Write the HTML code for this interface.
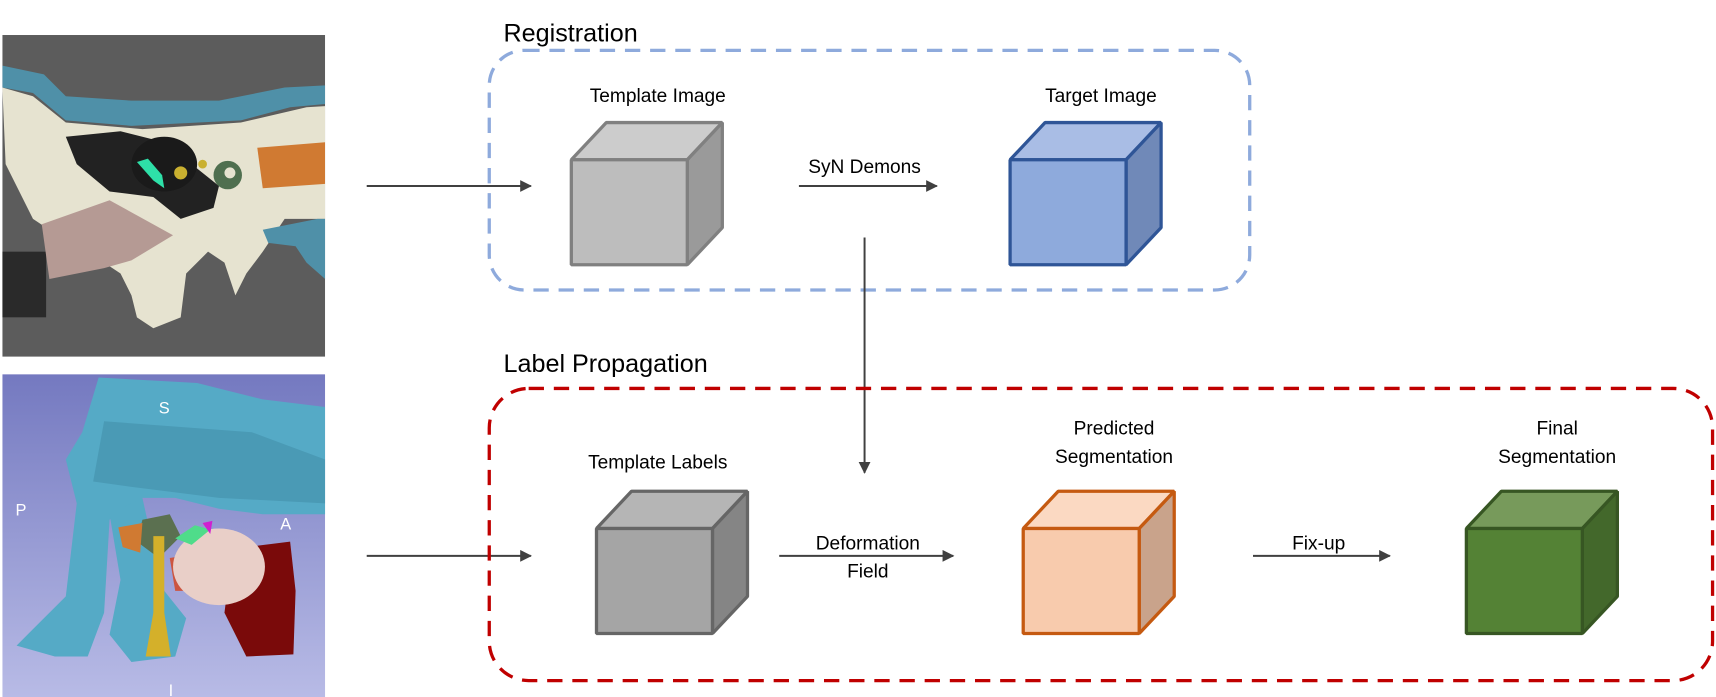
<!DOCTYPE html>
<html><head><meta charset="utf-8"><style>
html,body{margin:0;padding:0;background:#fff;}
svg{display:block;}
text{font-family:"Liberation Sans",Arial,sans-serif;fill:#000;}
</style></head><body>
<svg width="1716" height="697" viewBox="0 0 1568 637" xmlns="http://www.w3.org/2000/svg">
<defs>
<marker id="ah" viewBox="0 0 10 10" refX="9" refY="5" markerWidth="6" markerHeight="6" orient="auto"><path d="M0,0 L10,5 L0,10 z" fill="#404040"/></marker>
<linearGradient id="bg3d" x1="0" y1="0" x2="0" y2="1"><stop offset="0" stop-color="#7479c0"/><stop offset="1" stop-color="#b8bbe6"/></linearGradient>
<clipPath id="c1"><rect x="2" y="32" width="295" height="294"/></clipPath>
<clipPath id="c2"><rect x="2" y="342" width="295" height="295"/></clipPath>
</defs>

<g clip-path="url(#c1)">
<rect x="2" y="32" width="295" height="294" fill="#5c5c5c"/>
<rect x="2" y="230" width="40" height="60" fill="#2a2a2a"/>
<path d="M2,60 L40,68 L60,88 L120,92 L200,92 L260,80 L297,78 L297,95 L265,98 L220,110 L120,115 L60,110 L30,85 L2,80 z" fill="#4f90a8"/>
<path d="M2,80 L30,88 L60,112 L130,118 L220,112 L280,98 L297,97 L297,200 L260,200 L240,230 L225,250 L215,270 L205,240 L190,230 L170,250 L165,290 L140,300 L125,290 L120,270 L110,250 L80,230 L60,220 L30,200 L5,150 z" fill="#e6e3d0"/>
<path d="M60,125 L110,120 L150,130 L175,150 L200,170 L195,190 L165,200 L140,180 L100,175 L70,150 z" fill="#222"/>
<ellipse cx="150" cy="150" rx="30" ry="25" fill="#1a1a1a"/>
<path d="M125,148 L135,145 L148,160 L150,172 L140,165 z" fill="#2ee0a8"/>
<circle cx="165" cy="158" r="6" fill="#c9b030"/>
<circle cx="185" cy="150" r="4" fill="#c9b030"/>
<circle cx="208" cy="160" r="13" fill="#4f6f4f"/>
<circle cx="210" cy="158" r="5" fill="#e6e3d0"/>
<path d="M235,135 L297,130 L297,168 L240,172 z" fill="#d07a32"/>
<path d="M240,210 L290,200 L297,200 L297,255 L280,240 L270,225 L245,222 z" fill="#4f90a8"/>
<path d="M38,205 L100,183 L158,215 L120,238 L95,245 L45,255 z" fill="#b59a94"/>
</g>

<g clip-path="url(#c2)">
<rect x="2" y="342" width="295" height="295" fill="url(#bg3d)"/>
<path d="M90,345 L180,350 L240,365 L297,372 L297,470 L240,470 L200,465 L160,455 L130,455 L100,475 L95,560 L80,600 L50,600 L15,590 L30,575 L60,545 L70,460 L60,420 L75,395 z" fill="#55aac6"/>
<path d="M100,470 L130,455 L140,500 L150,540 L170,565 L160,600 L120,605 L100,580 L110,530 z" fill="#55aac6"/>
<path d="M95,385 L230,395 L297,420 L297,460 L200,455 L120,445 L85,440 z" fill="#4a9ab5"/>
<path d="M130,475 L155,470 L165,490 L145,510 L125,495 z" fill="#5b7050"/>
<path d="M108,482 L130,478 L128,505 L112,500 z" fill="#d07a32"/>
<path d="M140,490 L150,490 L150,560 L156,600 L133,600 L140,560 z" fill="#d4b02a"/>
<path d="M155,510 L185,505 L180,540 L160,540 z" fill="#cc5540"/>
<path d="M225,500 L265,495 L270,540 L268,598 L225,600 L205,560 L210,520 z" fill="#7a0a0a"/>
<ellipse cx="200" cy="518" rx="42" ry="35" fill="#e9cfc8"/>
<path d="M160,492 L178,480 L192,484 L175,498 z" fill="#4fdc8a"/>
<path d="M185,478 L194,476 L192,488 z" fill="#d020d0"/>
<text x="145" y="378" font-size="15" style="fill:#fff">S</text>
<text x="14" y="471" font-size="15" style="fill:#fff">P</text>
<text x="256" y="484" font-size="15" style="fill:#fff">A</text>
<text x="154" y="636" font-size="15" style="fill:#fff">I</text>
</g>

<line x1="335" y1="170" x2="485" y2="170" stroke="#404040" stroke-width="1.8" marker-end="url(#ah)"/>
<line x1="335" y1="508" x2="485" y2="508" stroke="#404040" stroke-width="1.8" marker-end="url(#ah)"/>

<text x="460" y="38" font-size="23">Registration</text>
<rect x="447" y="46" width="695" height="219" rx="32" fill="none" stroke="#8eaadc" stroke-width="3" stroke-dasharray="14,9"/>
<text x="601" y="93" font-size="17.5" text-anchor="middle">Template Image</text>
<text x="1006" y="93" font-size="17.5" text-anchor="middle">Target Image</text>
<text x="790" y="158" font-size="17.5" text-anchor="middle">SyN Demons</text>
<line x1="730" y1="170" x2="856" y2="170" stroke="#404040" stroke-width="1.8" marker-end="url(#ah)"/>

<g stroke="#808080" stroke-width="3" stroke-linejoin="bevel">
<polygon points="522,146 554,112 660,112 628,146" fill="#cccccc"/>
<polygon points="628,146 660,112 660,208 628,242" fill="#9a9a9a"/>
<rect x="522" y="146" width="106" height="96" fill="#bdbdbd"/>
</g>
<g stroke="#2f5597" stroke-width="3" stroke-linejoin="bevel">
<polygon points="923,146 955,112 1061,112 1029,146" fill="#a9bde5"/>
<polygon points="1029,146 1061,112 1061,208 1029,242" fill="#7089b8"/>
<rect x="923" y="146" width="106" height="96" fill="#8eaadc"/>
</g>

<line x1="790" y1="217" x2="790" y2="432" stroke="#404040" stroke-width="1.8" marker-end="url(#ah)"/>

<text x="460" y="340" font-size="23">Label Propagation</text>
<rect x="447" y="355" width="1118" height="267" rx="36" fill="none" stroke="#c00000" stroke-width="3" stroke-dasharray="14,9"/>
<text x="601" y="428" font-size="17.5" text-anchor="middle">Template Labels</text>
<text x="1018" y="397" font-size="17.5" text-anchor="middle">Predicted</text>
<text x="1018" y="423" font-size="17.5" text-anchor="middle">Segmentation</text>
<text x="1423" y="397" font-size="17.5" text-anchor="middle">Final</text>
<text x="1423" y="423" font-size="17.5" text-anchor="middle">Segmentation</text>
<text x="793" y="502" font-size="17.5" text-anchor="middle">Deformation</text>
<text x="793" y="528" font-size="17.5" text-anchor="middle">Field</text>
<line x1="712" y1="508" x2="871" y2="508" stroke="#404040" stroke-width="1.8" marker-end="url(#ah)"/>
<text x="1205" y="502" font-size="17.5" text-anchor="middle">Fix-up</text>
<line x1="1145" y1="508" x2="1270" y2="508" stroke="#404040" stroke-width="1.8" marker-end="url(#ah)"/>

<g stroke="#666666" stroke-width="3" stroke-linejoin="bevel">
<polygon points="545,483 577,449 683,449 651,483" fill="#b5b5b5"/>
<polygon points="651,483 683,449 683,545 651,579" fill="#858585"/>
<rect x="545" y="483" width="106" height="96" fill="#a5a5a5"/>
</g>
<g stroke="#c55a11" stroke-width="3" stroke-linejoin="bevel">
<polygon points="935,483 967,449 1073,449 1041,483" fill="#fbd9c2"/>
<polygon points="1041,483 1073,449 1073,545 1041,579" fill="#c9a38b"/>
<rect x="935" y="483" width="106" height="96" fill="#f8cbad"/>
</g>
<g stroke="#375623" stroke-width="3" stroke-linejoin="bevel">
<polygon points="1340,483 1372,449 1478,449 1446,483" fill="#779a5b"/>
<polygon points="1446,483 1478,449 1478,545 1446,579" fill="#43682b"/>
<rect x="1340" y="483" width="106" height="96" fill="#548235"/>
</g>
</svg>
</body></html>
